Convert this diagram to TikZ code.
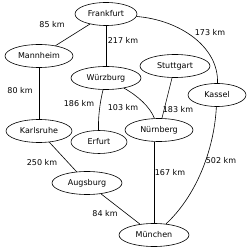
\documentclass[tikz,border=0pt]{standalone}
\usepackage{fontspec}
\setmainfont{DejaVu Sans}
\usetikzlibrary{shapes.geometric}

\tikzset{
  city/.style={draw, ellipse, inner sep=0pt, minimum height=23pt},
  dist/.style={inner sep=0pt},
}

\begin{document}
\begin{tikzpicture}[x=1pt,y=1pt,line width=0.6pt,font=\fontsize{8}{10}\selectfont]
  % Frame
  \useasboundingbox (0,0) rectangle (250,252);

  % Cities
  \node[city, minimum width=62pt] (frankfurt) at (106,238) {Frankfurt};
  \node[city, minimum width=68pt] (mannheim)  at (39,196)  {Mannheim};
  \node[city, minimum width=70pt] (wuerzburg) at (106,174) {Würzburg};
  \node[city, minimum width=70pt] (stuttgart) at (175,186) {Stuttgart};
  \node[city, minimum width=58pt] (kassel)    at (217,157) {Kassel};
  \node[city, minimum width=66pt] (karlsruhe) at (39,121)  {Karlsruhe};
  \node[city, minimum width=56pt] (erfurt)    at (99,110)  {Erfurt};
  \node[city, minimum width=68pt] (nuernberg) at (159,122) {Nürnberg};
  \node[city, minimum width=70pt] (augsburg)  at (87,69)   {Augsburg};
  \node[city, minimum width=70pt] (muenchen)  at (154,17)  {München};

  % Roads
  \draw (frankfurt) -- (mannheim);
  \draw (frankfurt) -- (wuerzburg);
  \draw (frankfurt) .. controls (180,232) and (219,205) .. (kassel);
  \draw (mannheim) -- (karlsruhe);
  \draw (wuerzburg) .. controls (100,150) and (98,135) .. (erfurt);
  \draw (wuerzburg) .. controls (138,156) and (150,145) .. (nuernberg);
  \draw (stuttgart) -- (nuernberg);
  \draw (karlsruhe) -- (augsburg);
  \draw (augsburg) -- (muenchen);
  \draw (muenchen.north) -- (muenchen.north |- nuernberg.south);
  \draw (kassel) .. controls (214,100) and (195,55) .. (muenchen);

  % Distances
  \node[dist] (d85)  at (52,227)  {85 km};
  \node[dist] (d217) at (123,212) {217 km};
  \node[dist] (d173) at (210,219) {173 km};
  \node[dist] (d80)  at (20,161)  {80 km};
  \node[dist] (d186) at (79,148)  {186 km};
  \node[dist] (d103) at (123,144) {103 km};
  \node[dist] (d183) at (178,142) {183 km};
  \node[dist] (d502) at (221,91)  {502 km};
  \node[dist] (d250) at (42,89)   {250 km};
  \node[dist] (d167) at (170,79)  {167 km};
  \node[dist] (d84)  at (105,38)  {84 km};
\end{tikzpicture}
\end{document}
